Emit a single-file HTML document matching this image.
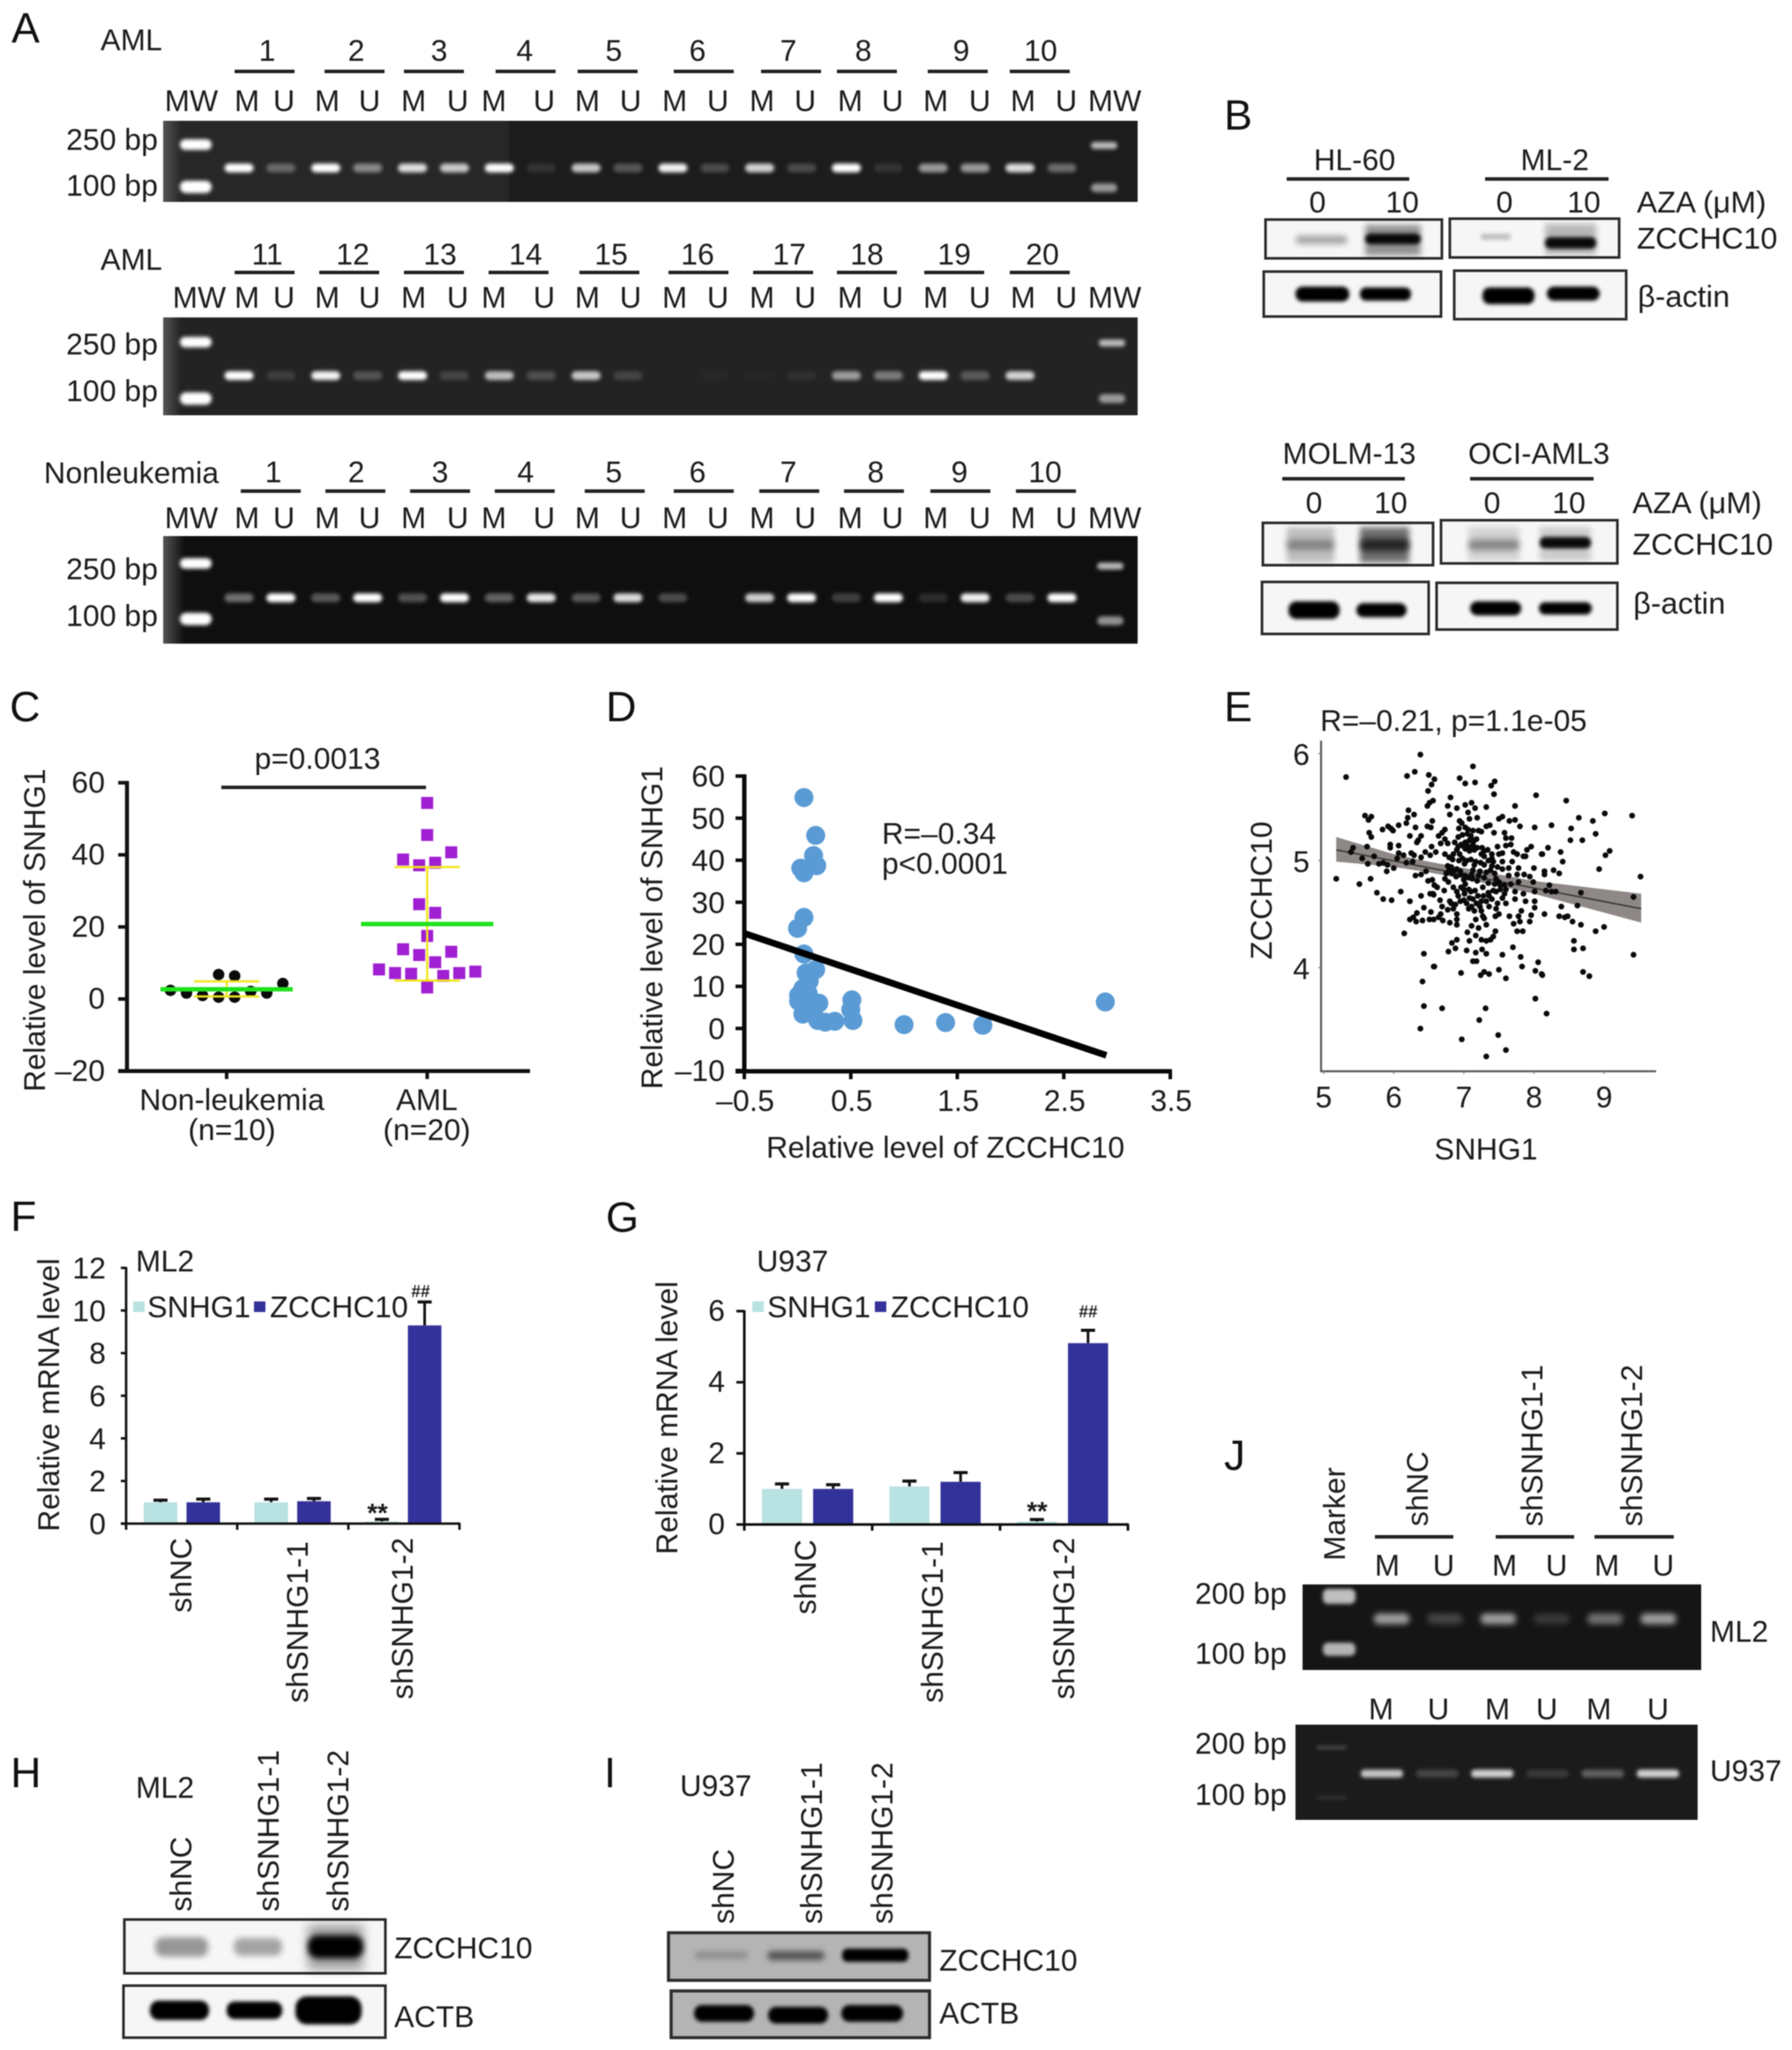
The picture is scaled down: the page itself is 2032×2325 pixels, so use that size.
<!DOCTYPE html>
<html lang="en">
<head>
<meta charset="utf-8">
<title>ZCCHC10 and SNHG1 figure</title>
<style>
html,body{margin:0;padding:0;background:#fff;}
svg{display:block;filter:blur(.5px);}
text{font-family:"Liberation Sans",sans-serif;font-size:34px;fill:#1c1c1c;}
.pl{font-size:48px;fill:#111;}
.wb{font-size:34.6px;}
.box{fill:#f6f6f6;stroke:#2c2c2c;stroke-width:3;}
.boxg{fill:#b4b4b4;stroke:#2c2c2c;stroke-width:3.5;}
</style>
</head>
<body>
<svg id="fig" width="2032" height="2325" viewBox="0 0 2032 2325">
<defs>
<filter id="bS" x="-30%" y="-100%" width="160%" height="300%"><feGaussianBlur stdDeviation="2.2"/></filter>
<filter id="bM" x="-30%" y="-100%" width="160%" height="300%"><feGaussianBlur stdDeviation="3.5"/></filter>
<filter id="bL" x="-30%" y="-60%" width="160%" height="220%"><feGaussianBlur stdDeviation="6"/></filter>
<linearGradient id="gelEdge" x1="0" x2="1" y1="0" y2="0"><stop offset="0" stop-color="#555"/><stop offset="1" stop-color="#555" stop-opacity="0"/></linearGradient>
</defs>
<rect x="0" y="0" width="2032" height="2325" fill="#fff"/>

<!-- panel letters -->
<text class="pl" x="13" y="48">A</text>
<text class="pl" x="1388" y="147">B</text>
<text class="pl" x="11" y="818">C</text>
<text class="pl" x="687" y="818">D</text>
<text class="pl" x="1388" y="818">E</text>
<text class="pl" x="12" y="1396">F</text>
<text class="pl" x="687" y="1397">G</text>
<text class="pl" x="12" y="2027">H</text>
<text class="pl" x="685" y="2027">I</text>
<text class="pl" x="1388" y="1667">J</text>

<!-- panel A static labels -->
<g>
<text x="149" y="57" text-anchor="middle">AML</text>
<text x="149" y="306" text-anchor="middle">AML</text>
<text x="149" y="548" text-anchor="middle">Nonleukemia</text>
<text x="179" y="170" text-anchor="end">250 bp</text>
<text x="179" y="222" text-anchor="end">100 bp</text>
<text x="179" y="402" text-anchor="end">250 bp</text>
<text x="179" y="455" text-anchor="end">100 bp</text>
<text x="179" y="657" text-anchor="end">250 bp</text>
<text x="179" y="710" text-anchor="end">100 bp</text>
<rect x="185" y="137" width="1105" height="92" fill="#1c1c1c"/>
<rect x="185" y="137" width="392" height="92" fill="#272727"/>
<rect x="185" y="137" width="20" height="92" fill="url(#gelEdge)"/>
<rect x="185" y="360" width="1105" height="111" fill="#232323"/>
<rect x="185" y="360" width="20" height="111" fill="url(#gelEdge)"/>
<rect x="185" y="608" width="1105" height="122" fill="#0f0f0f"/>
<rect x="185" y="608" width="24" height="122" fill="url(#gelEdge)"/>
<g id="gelA"></g>
</g>

<!-- panel B -->
<g>
<text x="1536" y="193" text-anchor="middle">HL-60</text>
<rect x="1459" y="201" width="139" height="4" fill="#222"/>
<text x="1763" y="193" text-anchor="middle">ML-2</text>
<rect x="1684" y="201" width="140" height="4" fill="#222"/>
<text x="1494" y="241" text-anchor="middle">0</text>
<text x="1590" y="241" text-anchor="middle">10</text>
<text x="1706" y="241" text-anchor="middle">0</text>
<text x="1796" y="241" text-anchor="middle">10</text>
<text class="wb" x="1856" y="241">AZA (μM)</text>
<text class="wb" x="1856" y="282">ZCCHC10</text>
<text class="wb" x="1857" y="348">β-actin</text>

<rect class="box" x="1435" y="249" width="200" height="44"/>
<rect x="1469" y="267" width="59" height="10" rx="5" opacity=".32" filter="url(#bM)"/>
<rect x="1548" y="255" width="63" height="35" opacity=".4" filter="url(#bM)"/>
<rect x="1548" y="265" width="63" height="12" rx="6" opacity=".95" filter="url(#bS)"/>
<rect class="box" x="1644" y="248" width="192" height="44"/>
<rect x="1679" y="265" width="34" height="7" rx="3" opacity=".22" filter="url(#bS)"/>
<rect x="1752" y="254" width="58" height="35" opacity=".25" filter="url(#bM)"/>
<rect x="1752" y="269" width="58" height="13" rx="6" opacity=".95" filter="url(#bS)"/>
<rect class="box" x="1433" y="308" width="201" height="51"/>
<rect x="1469" y="325" width="61" height="17" rx="8" filter="url(#bS)"/>
<rect x="1542" y="326" width="58" height="15" rx="7" filter="url(#bS)"/>
<rect class="box" x="1649" y="307" width="195" height="55"/>
<rect x="1681" y="326" width="59" height="19" rx="8" filter="url(#bS)"/>
<rect x="1754" y="325" width="60" height="16" rx="8" filter="url(#bS)"/>

<text x="1530" y="526" text-anchor="middle">MOLM-13</text>
<rect x="1454" y="541" width="139" height="4" fill="#222"/>
<text x="1745" y="526" text-anchor="middle">OCI-AML3</text>
<rect x="1667" y="541" width="140" height="4" fill="#222"/>
<text x="1490" y="582" text-anchor="middle">0</text>
<text x="1577" y="582" text-anchor="middle">10</text>
<text x="1692" y="582" text-anchor="middle">0</text>
<text x="1779" y="582" text-anchor="middle">10</text>
<text class="wb" x="1851" y="582">AZA (μM)</text>
<text class="wb" x="1851" y="629">ZCCHC10</text>
<text class="wb" x="1852" y="696">β-actin</text>

<rect class="box" x="1432" y="593" width="193" height="48"/>
<rect x="1459" y="598" width="54" height="40" opacity=".22" filter="url(#bM)"/>
<rect x="1459" y="612" width="54" height="12" rx="5" opacity=".3" filter="url(#bM)"/>
<rect x="1542" y="598" width="56" height="40" opacity=".55" filter="url(#bM)"/>
<rect x="1542" y="611" width="56" height="14" rx="6" opacity=".65" filter="url(#bM)"/>
<rect class="box" x="1634" y="590" width="200" height="49"/>
<rect x="1665" y="598" width="58" height="38" opacity=".14" filter="url(#bM)"/>
<rect x="1665" y="612" width="58" height="12" rx="5" opacity=".35" filter="url(#bM)"/>
<rect x="1746" y="598" width="58" height="38" opacity=".17" filter="url(#bM)"/>
<rect x="1746" y="609" width="58" height="13" rx="6" opacity=".95" filter="url(#bS)"/>
<rect class="box" x="1431" y="660" width="189" height="59"/>
<rect x="1461" y="682" width="58" height="20" rx="9" filter="url(#bS)"/>
<rect x="1538" y="684" width="57" height="16" rx="8" filter="url(#bS)"/>
<rect class="box" x="1629" y="661" width="205" height="53"/>
<rect x="1667" y="682" width="58" height="16" rx="8" filter="url(#bS)"/>
<rect x="1745" y="683" width="60" height="14" rx="7" filter="url(#bS)"/>
</g>

<!-- panel C -->
<g>
<text x="51" y="1055" text-anchor="middle" transform="rotate(-90 51 1055)">Relative level of SNHG1</text>
<text x="360" y="872" text-anchor="middle">p=0.0013</text>
<rect x="251" y="891" width="232" height="4" fill="#222"/>
<text x="263" y="1259" text-anchor="middle">Non-leukemia</text>
<text x="263" y="1293" text-anchor="middle">(n=10)</text>
<text x="484" y="1259" text-anchor="middle">AML</text>
<text x="484" y="1293" text-anchor="middle">(n=20)</text>
<g id="chartC"></g>
</g>

<!-- panel D -->
<g>
<text x="751" y="1052" text-anchor="middle" transform="rotate(-90 751 1052)">Relative level of SNHG1</text>
<text x="1072" y="1313" text-anchor="middle">Relative level of ZCCHC10</text>
<text x="1000" y="957">R=–0.34</text>
<text x="1000" y="991">p&lt;0.0001</text>
<g id="chartD"></g>
</g>

<!-- panel E -->
<g>
<text x="1497" y="829">R=–0.21, p=1.1e-05</text>
<text x="1442" y="1010" text-anchor="middle" transform="rotate(-90 1442 1010)">ZCCHC10</text>
<text x="1685" y="1315" text-anchor="middle">SNHG1</text>
<g id="chartE"></g>
</g>

<!-- panel F -->
<g>
<text x="67" y="1582" text-anchor="middle" transform="rotate(-90 67 1582)">Relative mRNA level</text>
<text x="154" y="1442">ML2</text>
<rect x="151" y="1476" width="13" height="12" fill="#b9e2e2"/>
<text x="167" y="1494">SNHG1</text>
<rect x="288" y="1476" width="13" height="12" fill="#33329a"/>
<text x="306" y="1494">ZCCHC10</text>
<text x="428" y="1726" text-anchor="middle" style="font-size:30px;font-weight:bold">**</text>
<text x="477" y="1471" text-anchor="middle" style="font-size:19px;font-weight:bold">##</text>
<text x="217" y="1744" text-anchor="end" transform="rotate(-90 217 1744)">shNC</text>
<text x="349" y="1748" text-anchor="end" transform="rotate(-90 349 1748)">shSNHG1-1</text>
<text x="468" y="1744" text-anchor="end" transform="rotate(-90 468 1744)">shSNHG1-2</text>
<g id="chartF"></g>
</g>

<!-- panel G -->
<g>
<text x="768" y="1608" text-anchor="middle" transform="rotate(-90 768 1608)">Relative mRNA level</text>
<text x="858" y="1442">U937</text>
<rect x="853" y="1476" width="13" height="12" fill="#b9e2e2"/>
<text x="870" y="1494">SNHG1</text>
<rect x="992" y="1476" width="13" height="12" fill="#33329a"/>
<text x="1010" y="1494">ZCCHC10</text>
<text x="1176" y="1724" text-anchor="middle" style="font-size:30px;font-weight:bold">**</text>
<text x="1234" y="1494" text-anchor="middle" style="font-size:19px;font-weight:bold">##</text>
<text x="925" y="1746" text-anchor="end" transform="rotate(-90 925 1746)">shNC</text>
<text x="1069" y="1748" text-anchor="end" transform="rotate(-90 1069 1748)">shSNHG1-1</text>
<text x="1218" y="1744" text-anchor="end" transform="rotate(-90 1218 1744)">shSNHG1-2</text>
<g id="chartG"></g>
</g>

<!-- panel H -->
<g>
<text x="154" y="2039">ML2</text>
<text x="217" y="2168" transform="rotate(-90 217 2168)">shNC</text>
<text x="316" y="2168" transform="rotate(-90 316 2168)">shSNHG1-1</text>
<text x="395" y="2168" transform="rotate(-90 395 2168)">shSNHG1-2</text>
<rect class="box" x="141" y="2177" width="296" height="61"/>
<rect x="176" y="2197" width="60" height="22" rx="9" opacity=".38" filter="url(#bM)"/>
<rect x="265" y="2198" width="55" height="20" rx="9" opacity=".33" filter="url(#bM)"/>
<rect x="349" y="2183" width="63" height="51" opacity=".35" filter="url(#bL)"/>
<rect x="349" y="2195" width="63" height="26" rx="11" filter="url(#bM)"/>
<text x="447" y="2221">ZCCHC10</text>
<rect class="box" x="140" y="2252" width="297" height="59"/>
<rect x="170" y="2269" width="67" height="22" rx="10" filter="url(#bS)"/>
<rect x="257" y="2270" width="63" height="20" rx="9" filter="url(#bS)"/>
<rect x="335" y="2264" width="75" height="32" rx="13" filter="url(#bS)"/>
<text x="447" y="2299">ACTB</text>
</g>

<!-- panel I -->
<g>
<text x="771" y="2037">U937</text>
<text x="832" y="2182" transform="rotate(-90 832 2182)">shNC</text>
<text x="932" y="2182" transform="rotate(-90 932 2182)">shSNHG1-1</text>
<text x="1012" y="2182" transform="rotate(-90 1012 2182)">shSNHG1-2</text>
<rect class="boxg" x="758" y="2192" width="296" height="54"/>
<rect x="788" y="2214" width="60" height="7" rx="3" opacity=".25" filter="url(#bM)"/>
<rect x="870" y="2213" width="65" height="10" rx="5" opacity=".55" filter="url(#bM)"/>
<rect x="955" y="2210" width="75" height="15" rx="6" filter="url(#bS)"/>
<text x="1065" y="2235">ZCCHC10</text>
<rect class="boxg" x="761" y="2258" width="293" height="53"/>
<rect x="787" y="2274" width="68" height="19" rx="9" filter="url(#bS)"/>
<rect x="871" y="2276" width="68" height="19" rx="9" filter="url(#bS)"/>
<rect x="954" y="2274" width="70" height="19" rx="9" filter="url(#bS)"/>
<text x="1065" y="2295">ACTB</text>
</g>

<!-- panel J -->
<g>
<text x="1525" y="1770" transform="rotate(-90 1525 1770)">Marker</text>
<text x="1619" y="1731" transform="rotate(-90 1619 1731)">shNC</text>
<text x="1749" y="1731" transform="rotate(-90 1749 1731)">shSNHG1-1</text>
<text x="1862" y="1731" transform="rotate(-90 1862 1731)">shSNHG1-2</text>
<rect x="1559" y="1741" width="89" height="4" fill="#222"/>
<rect x="1696" y="1741" width="89" height="4" fill="#222"/>
<rect x="1808" y="1741" width="90" height="4" fill="#222"/>
<text x="1459" y="1819" text-anchor="end">200 bp</text>
<text x="1459" y="1887" text-anchor="end">100 bp</text>
<text x="1939" y="1862">ML2</text>
<text x="1459" y="1989" text-anchor="end">200 bp</text>
<text x="1459" y="2047" text-anchor="end">100 bp</text>
<text x="1939" y="2020">U937</text>
<rect x="1477" y="1797" width="452" height="97" fill="#151515"/>
<rect x="1469" y="1956" width="456" height="108" fill="#1b1b1b"/>
<g id="gelJ"></g>
</g>
</svg>

<script>
/* ---------- chart data ---------- */
const cYTicks = [60, 40, 20, 0, -20];
const cYTickLabels = ['60', '40', '20', '0', '–20'];
const cNonLeukValues = [2.4, 1.65, 0.96, 0.5, 0.5, 2.1, 1.65, 4.3, 6.8, 6.4];
const cNonLeukSwarm = [-3.5, -2.5, -1.5, -0.5, 0.5, 1.5, 2.5, 3.5, -0.5, 0.5];
const cAmlValues = [54.4, 45.5, 40.7, 38.7, 37.8, 37.1, 26.3, 23.9, 17.5, 13.8, 13.1, 12.2, 10.2, 8.2, 7.2, 7.0, 6.4, 7.2, 7.6, 3.2];
const cAmlSwarm = [0, 0, 1.5, -1.5, 0.5, -0.5, -0.5, 0.5, 0, -1.5, 1.5, -0.5, 0.5, -3, -2, -1, 1, 2, 3, 0];
const cMeans = [2.7, 20.8];
const cSdLow = [0.7, 5.1];
const cSdHigh = [4.9, 36.6];

const dYTicks = [60, 50, 40, 30, 20, 10, 0, -10];
const dYTickLabels = ['60', '50', '40', '30', '20', '10', '0', '–10'];
const dXTicks = [-0.5, 0.5, 1.5, 2.5, 3.5];
const dXTickLabels = ['–0.5', '0.5', '1.5', '2.5', '3.5'];
const dZcchc10 = [0.06, 0.17, 0.15, 0.18, 0.03, 0.06, 0.06, 0.00, 0.06, 0.17, 0.08, 0.11, 0.01, 0.10, 0.20, 0.05, 0.51, 0.50, 0.52, 0.19, 0.26, 0.35, 1.00, 1.39, 1.74, 2.89, 0.08, 0.14, 0.01, 0.05];
const dSnhg1 = [54.9, 45.9, 41.1, 38.7, 38.1, 37.0, 26.4, 23.8, 17.7, 14.0, 13.2, 11.3, 7.9, 8.3, 6.0, 3.4, 6.8, 4.5, 1.9, 1.9, 1.5, 1.7, 0.9, 1.4, 0.75, 6.3, 5.5, 4.8, 6.5, 9.5];
const dTrendX = [-0.5, 2.9];
const dTrendY = [22.6, -6.4];

const eXTicks = [5, 6, 7, 8, 9];
const eYTicks = [6, 5, 4];
const eSnhg1 = [
6.38,5.32,6.19,6.30,6.50,6.58,6.54,6.49,6.48,6.51,6.56,6.21,6.29,6.20,6.18,5.59,5.68,5.64,5.84,5.92,5.96,5.99,6.07,6.31,5.65,5.68,6.23,6.39,6.35,6.33,5.95,5.95,6.07,5.62,5.42,5.39,5.55,5.72,6.07,6.14,6.25,6.29,6.39,6.45,6.52,6.54,6.60,6.48,6.53,6.55,6.05,6.18,6.27,5.63,5.79,5.85,5.91,5.90,6.00,5.18,5.51,5.67,5.76,6.10,5.85,5.97,6.23,6.39,6.31,6.39,6.46,6.49,6.55,6.58,6.52,6.57,6.43,6.33,6.53,6.23,6.28,6.32,6.41,6.51,6.57,6.15,6.43,6.57,6.41,6.43,6.38,
7.13,6.94,7.02,7.16,7.44,7.39,7.43,8.03,6.81,
6.77,6.90,7.02,7.11,7.16,7.32,7.73,6.80,7.06,7.08,7.19,6.94,6.97,
7.50,7.55,7.65,7.73,7.80,8.01,7.32,7.37,6.93,7.02,7.06,7.13,7.21,7.25,
6.73,6.69,6.64,7.43,7.58,7.60,7.68,6.92,6.73,6.67,6.77,
7.02,7.08,7.15,6.96,7.04,7.13,6.90,7.02,7.08,7.15,
7.48,7.60,7.67,7.96,7.90,7.29,7.25,7.40,7.50,7.55,7.71,7.76,7.85,7.88,8.11,
6.73,6.79,6.85,6.94,7.29,7.40,7.55,7.69,7.01,7.24,7.29,7.15,7.40,7.48,
6.77,6.82,6.79,6.85,6.90,7.13,7.23,7.32,7.38,7.44,7.55,7.64,7.78,8.00,
6.96,7.02,7.11,7.21,7.29,7.46,7.64,7.76,7.86,7.94,6.73,6.78,7.00,7.02,
7.50,7.58,7.67,7.78,7.99,6.58,6.62,6.85,6.90,6.92,7.01,7.16,7.27,7.46,
7.73,7.85,8.01,6.56,7.58,7.36,7.40,7.32,7.55,7.73,6.66,7.08,7.13,7.00,
7.04,7.23,7.11,6.80,6.88,7.88,8.01,7.60,7.48,7.46,7.50,8.01,
6.69,6.77,6.85,6.67,6.64,6.90,6.90,6.90,7.15,7.25,7.27,7.29,7.17,
7.65,7.78,7.82,7.96,7.94,7.71,7.80,7.11,7.32,7.21,7.05,7.76,7.84,7.45,
7.17,7.42,7.25,7.32,7.38,7.08,6.90,6.83,6.78,6.88,7.04,7.17,7.26,7.32,
7.70,7.55,7.81,7.13,7.18,8.06,7.83,6.58,6.96,7.24,7.29,7.36,7.50,7.60,8.02,8.11,
8.02,6.69,7.31,7.22,6.97,7.49,7.60,7.32,
8.46,9.01,9.40,8.64,8.84,8.25,8.53,8.88,8.52,8.69,
8.20,8.38,8.12,9.08,9.02,8.41,8.15,8.28,8.36,8.15,8.93,9.52,
8.22,8.17,8.25,8.31,8.67,9.42,8.39,8.62,8.15,8.36,8.44,8.48,8.55,8.67,
8.88,9.00,8.57,8.57,8.70,9.42,8.12,8.70,8.79,8.18,
6.98,7.05,7.10,7.18,6.87,6.92,7.00,7.06,7.12,7.19,7.26,7.34,6.84,6.93,6.98,7.04,7.10,7.17,7.35,7.42,6.75,6.83,6.89,6.95,7.07,7.12,7.19,7.35,7.44,7.52,6.72,6.96,7.00,7.07,7.10,7.20,7.28,7.35,7.42,7.52,7.60,6.82,6.95,7.07,7.18,7.25,7.36,7.45,6.70,6.80
];
const eZcchc10 = [
5.99,5.78,5.79,5.83,5.80,5.76,5.71,5.65,5.51,5.54,5.56,5.47,5.43,5.40,5.35,5.42,5.41,5.38,5.29,5.32,5.30,5.28,5.33,5.31,5.26,5.22,5.23,5.23,5.19,5.17,5.15,5.12,5.14,5.13,5.12,5.08,5.02,5.04,5.07,5.05,5.07,5.05,5.03,5.08,5.05,5.13,5.08,5.32,5.31,5.37,5.02,4.98,4.99,4.97,4.97,4.98,4.96,4.90,4.93,4.83,4.78,4.83,4.70,4.71,4.64,4.63,4.62,4.67,4.86,4.87,4.90,4.81,4.82,4.77,4.69,4.68,4.56,4.51,4.52,4.45,4.47,4.43,4.44,4.45,4.45,4.32,4.13,4.01,3.87,3.64,3.43,
5.88,5.77,5.72,5.73,5.74,5.70,5.62,5.61,5.59,
5.51,5.49,5.52,5.54,5.49,5.50,5.51,5.43,5.45,5.39,5.40,5.37,5.35,
5.39,5.41,5.37,5.38,5.32,5.31,5.32,5.33,5.30,5.31,5.29,5.28,5.28,5.27,
5.29,5.26,5.23,5.26,5.26,5.21,5.21,5.22,5.20,5.16,5.16,
5.17,5.19,5.19,5.15,5.15,5.15,5.10,5.11,5.09,5.10,
5.13,5.14,5.15,5.13,5.10,5.09,5.06,5.06,5.06,5.07,5.08,5.06,5.04,5.04,5.06,
5.06,5.03,5.06,5.06,5.04,5.02,4.99,4.99,4.97,4.98,4.96,4.96,4.95,4.94,
4.95,4.94,4.91,4.90,4.92,4.91,4.90,4.89,4.91,4.88,4.92,4.93,4.93,4.93,
4.87,4.86,4.87,4.86,4.84,4.83,4.86,4.87,4.87,4.85,4.83,4.80,4.82,4.78,
4.80,4.77,4.78,4.80,4.80,4.77,4.75,4.75,4.71,4.67,4.69,4.72,4.75,4.71,
4.71,4.69,4.71,4.69,4.69,4.67,4.64,4.62,4.65,4.64,4.63,4.65,4.64,4.63,
4.60,4.57,4.57,4.62,4.59,4.62,4.62,4.60,4.60,4.55,4.50,4.56,
4.57,4.54,4.55,4.50,4.47,4.50,4.45,4.40,4.53,4.53,4.48,4.46,4.45,
4.48,4.48,4.53,4.49,4.43,4.41,4.43,4.39,4.40,4.37,4.33,4.34,4.34,4.34,
4.30,4.29,4.26,4.25,4.26,4.25,4.26,4.23,4.15,4.18,4.16,4.14,4.17,4.13,
4.19,4.12,4.10,4.06,4.06,4.05,4.01,4.01,3.95,3.93,3.96,3.94,3.98,3.90,3.97,3.94,
3.71,3.62,3.62,3.51,3.33,3.37,3.23,3.17,
5.56,5.44,5.42,5.40,5.37,5.33,5.30,5.25,5.19,5.19,
5.12,5.08,5.06,5.09,5.05,4.99,4.90,4.91,4.88,4.87,4.92,4.85,
4.77,4.72,4.71,4.71,4.70,4.66,4.57,4.58,4.50,4.48,4.47,4.48,4.43,4.40,
4.34,4.38,4.25,4.17,4.18,4.12,3.93,3.96,3.92,3.57,
5.24,5.25,5.23,5.20,5.17,5.13,5.13,5.13,5.12,5.12,5.12,5.10,5.01,5.00,5.02,5.00,5.01,4.99,5.00,4.99,4.88,4.88,4.85,4.90,4.84,4.83,4.81,4.79,4.78,4.77,4.72,4.75,4.73,4.73,4.71,4.67,4.67,4.70,4.72,4.73,4.73,4.60,4.62,4.55,4.60,4.62,4.57,4.48,4.44,4.42
];
const eBandX = [5.18, 6, 6.5, 7, 8, 9.53];
const eBandUpper = [5.22, 5.06, 4.99, 4.93, 4.81, 4.69];
const eBandLower = [4.99, 4.94, 4.89, 4.83, 4.69, 4.42];
const eTrendX = [5.18, 9.53];
const eTrendY = [5.10, 4.55];

const fYTicks = [12, 10, 8, 6, 4, 2, 0];
const fSnhg1 = [1.0, 1.0, 0.1];
const fZcchc10 = [1.0, 1.05, 9.3];
const fSnhg1ErrTop = [1.1, 1.15, 0.2];
const fZcchc10ErrTop = [1.15, 1.18, 10.4];

const gYTicks = [6, 4, 2, 0];
const gSnhg1 = [1.0, 1.07, 0.08];
const gZcchc10 = [1.0, 1.2, 5.1];
const gSnhg1ErrTop = [1.14, 1.22, 0.14];
const gZcchc10ErrTop = [1.12, 1.46, 5.46];

/* ---------- gel band brightness (0-1) ---------- */
const gel1Methylated = [1.0, 1.0, 0.85, 1.0, 0.75, 0.95, 0.8, 1.0, 0.55, 0.85];
const gel1Unmethylated = [0.3, 0.45, 0.75, 0.1, 0.25, 0.2, 0.2, 0.1, 0.55, 0.35];
const gel2Methylated = [1.0, 0.95, 1.0, 0.7, 0.75, 0.0, 0.01, 0.55, 1.0, 0.8];
const gel2Unmethylated = [0.12, 0.22, 0.15, 0.2, 0.15, 0.02, 0.06, 0.4, 0.25, 0.0];
const gel3Methylated = [0.4, 0.3, 0.28, 0.35, 0.3, 0.25, 0.8, 0.2, 0.12, 0.25];
const gel3Unmethylated = [1.0, 1.0, 1.0, 0.9, 0.85, 0.0, 1.0, 1.0, 0.95, 1.0];
const jMl2Bands = [0.6, 0.2, 0.6, 0.15, 0.4, 0.6];
const jU937Bands = [0.75, 0.18, 0.8, 0.13, 0.3, 0.8];
const gel1Numbers = ['1', '2', '3', '4', '5', '6', '7', '8', '9', '10'];
const gel2Numbers = ['11', '12', '13', '14', '15', '16', '17', '18', '19', '20'];
const gel3Numbers = ['1', '2', '3', '4', '5', '6', '7', '8', '9', '10'];
const laneLetters = ['M', 'U'];
const gelWeightMarker = 'MW';

/* ---------- gel layout ---------- */
const layoutNumberX1 = [303, 404, 498, 595, 696, 791, 894, 979, 1090, 1180];
const layoutLineX1 = [266, 368, 458, 562, 655, 764, 863, 949, 1052, 1145];
const layoutNumberX2 = [303, 400, 499, 596, 693, 791, 895, 983, 1082, 1182];
const layoutLineX2 = [266, 362, 458, 554, 657, 758, 854, 949, 1048, 1145];
const layoutNumberX3 = [310, 404, 499, 596, 696, 791, 894, 993, 1088, 1185];
const layoutLineX3 = [273, 369, 465, 561, 663, 764, 861, 957, 1055, 1152];
const layoutLabelMX = [280, 371, 469, 560, 666, 765, 864, 964, 1061, 1160];
const layoutLabelUX = [322, 419, 519, 617, 715, 814, 913, 1012, 1111, 1209];
const jMl2Letters = ['M', 'U', 'M', 'U', 'M', 'U'];
const jU937Letters = ['M', 'U', 'M', 'U', 'M', 'U'];
const jMl2LabelX = [1573, 1637, 1706, 1765, 1822, 1886];
const jU937LabelX = [1566, 1631, 1698, 1754, 1813, 1880];

/* ---------- helpers ---------- */
const svgRoot = document.getElementById('fig');
const NS = svgRoot.namespaceURI;
function mk(tag, attrs, parent) {
  const el = document.createElementNS(NS, tag);
  for (const k in attrs) el.setAttribute(k, attrs[k]);
  parent.appendChild(el);
  return el;
}
function txt(parent, x, y, str, anchor) {
  const el = mk('text', { x: x, y: y, 'text-anchor': anchor || 'middle' }, parent);
  el.textContent = str;
  return el;
}

/* ---------- panel A gels ---------- */
const gelA = document.getElementById('gelA');
function laneMX(i) { return 271 + 98.4 * i; }
function laneUX(i) { return 318.5 + 98.4 * i; }
function gelBand(parent, cx, cy, w, h, level) {
  const el = mk('rect', { x: cx - w / 2, y: cy - h / 2, width: w, height: h, rx: h / 2, fill: '#fff', opacity: level, filter: 'url(#bS)' }, parent);
  return el;
}
function drawGel(name, numbers, numberX, lineX, numY, lineY, letterY, bandY, mVals, uVals, mwX, ladTopY, ladBotY, rightX, rTopY, rBotY) {
  for (let i = 0; i < numbers.length; i++) {
    const n = txt(gelA, numberX[i], numY, numbers[i]);
    
    
    const l = mk('rect', { x: lineX[i], y: lineY - 2, width: 68, height: 4, fill: '#222' }, gelA);
    
    
    const m = txt(gelA, layoutLabelMX[i], letterY, laneLetters[0]);
    
    
    const u = txt(gelA, layoutLabelUX[i], letterY, laneLetters[1]);
    
    
    const bm = gelBand(gelA, laneMX(i), bandY, 33, 10, mVals[i]);
    
    
    const bu = gelBand(gelA, laneUX(i), bandY, 33, 10, uVals[i]);
    
    
  }
  const mwL = txt(gelA, mwX, letterY, gelWeightMarker);
  
  
  const mwR = txt(gelA, 1264, letterY, gelWeightMarker);
  
  
  const la = gelBand(gelA, 222, ladTopY, 36, 12, 1);
  
  
  const lb = gelBand(gelA, 222, ladBotY, 36, 14, 1);
  
  
  const ra = gelBand(gelA, rightX, rTopY, 30, 8, 0.7);
  
  
  const rb = gelBand(gelA, rightX, rBotY, 30, 10, 0.55);
  
  
}
drawGel('gel-1', gel1Numbers, layoutNumberX1, layoutLineX1, 69, 81, 126, 190.5, gel1Methylated, gel1Unmethylated, 217, 164, 212, 1252, 165, 213);
drawGel('gel-2', gel2Numbers, layoutNumberX2, layoutLineX2, 300, 309, 349, 426, gel2Methylated, gel2Unmethylated, 226, 388, 452, 1261, 389, 452);
drawGel('gel-3', gel3Numbers, layoutNumberX3, layoutLineX3, 547, 557, 599, 678, gel3Methylated, gel3Unmethylated, 217, 639, 702, 1259, 642, 704);

/* ---------- panel J gels ---------- */
const gelJ = document.getElementById('gelJ');
for (let i = 0; i < jMl2Bands.length; i++) {
  const b = mk('rect', { x: 1578 + 60.5 * i - 20, y: 1830, width: 40, height: 12, rx: 5, fill: '#fff', opacity: jMl2Bands[i], filter: 'url(#bM)' }, gelJ);
  
  
  const l = txt(gelJ, jMl2LabelX[i], 1787, jMl2Letters[i]);
  
  
}
for (let i = 0; i < jU937Bands.length; i++) {
  const b = mk('rect', { x: 1567 + 62.6 * i - 24, y: 2007, width: 48, height: 9, rx: 4, fill: '#fff', opacity: jU937Bands[i], filter: 'url(#bS)' }, gelJ);
  
  
  const l = txt(gelJ, jU937LabelX[i], 1950, jU937Letters[i]);
  
  
}
const jM1 = mk('rect', { x: 1500, y: 1802, width: 37, height: 17, rx: 6, fill: '#ddd', opacity: 0.85, filter: 'url(#bS)' }, gelJ);


const jM2 = mk('rect', { x: 1500, y: 1863, width: 37, height: 15, rx: 6, fill: '#ddd', opacity: 0.8, filter: 'url(#bS)' }, gelJ);


const jM3 = mk('rect', { x: 1493, y: 1980, width: 34, height: 4, fill: '#fff', opacity: 0.2, filter: 'url(#bS)' }, gelJ);


const jM4 = mk('rect', { x: 1493, y: 2037, width: 34, height: 4, fill: '#fff', opacity: 0.1, filter: 'url(#bS)' }, gelJ);



/* ---------- panel C ---------- */
const chartC = document.getElementById('chartC');
function cY(v) { return 1133 - v * 4.0875; }
function cX(i) { return 257 + 227.4 * i; }
function cSwarm(i, s) { return cX(i) + s * 18.2; }
const cAxisY = mk('line', { x1: 144, x2: 144, y1: cY(60) - 2, y2: cY(-20), stroke: '#111', 'stroke-width': 4.5 }, chartC);


const cAxisX = mk('line', { x1: 134, x2: 601, y1: cY(-20), y2: cY(-20), stroke: '#111', 'stroke-width': 4.5 }, chartC);


cYTicks.forEach(function (v, i) {
  const t = mk('line', { x1: 134, x2: 144, y1: cY(v), y2: cY(v), stroke: '#111', 'stroke-width': 4 }, chartC);
  
  
  const l = txt(chartC, 119, cY(v) + 11, cYTickLabels[i], 'end');
  
  
});
[0, 1].forEach(function (i) {
  const t = mk('line', { x1: cX(i), x2: cX(i), y1: cY(-20), y2: cY(-20) + 9, stroke: '#111', 'stroke-width': 4 }, chartC);
  
  
});
cNonLeukValues.forEach(function (v, i) {
  const d = mk('circle', { cx: cSwarm(0, cNonLeukSwarm[i]), cy: cY(v), r: 6.5, fill: '#0a0a0a' }, chartC);
  
  
});
cAmlValues.forEach(function (v, i) {
  const d = mk('rect', { x: cSwarm(1, cAmlSwarm[i]) - 6.8, y: cY(v) - 6.8, width: 13.6, height: 13.6, fill: '#a01fd2' }, chartC);
  
  
});
[0, 1].forEach(function (i) {
  const v = mk('line', { x1: cX(i), x2: cX(i), y1: cY(cSdHigh[i]), y2: cY(cSdLow[i]), stroke: '#f2e61c', 'stroke-width': 2.5 }, chartC);
  
  
  const hi = mk('line', { x1: cX(i) - 37, x2: cX(i) + 37, y1: cY(cSdHigh[i]), y2: cY(cSdHigh[i]), stroke: '#f2e61c', 'stroke-width': 2.5 }, chartC);
  
  
  const lo = mk('line', { x1: cX(i) - 37, x2: cX(i) + 37, y1: cY(cSdLow[i]), y2: cY(cSdLow[i]), stroke: '#f2e61c', 'stroke-width': 2.5 }, chartC);
  
  
  const m = mk('line', { x1: cX(i) - 75, x2: cX(i) + 75, y1: cY(cMeans[i]), y2: cY(cMeans[i]), stroke: '#1fe21f', 'stroke-width': 5 }, chartC);
  
  
});

/* ---------- panel D ---------- */
const chartD = document.getElementById('chartD');
function dX(v) { return 844 + (v + 0.5) * 120.75; }
function dY(v) { return 1166.4 - v * 4.77; }
dZcchc10.forEach(function (v, i) {
  const d = mk('circle', { cx: dX(v), cy: dY(dSnhg1[i]), r: 10.8, fill: '#5b9bd5' }, chartD);
  
  
});
const dAxisY = mk('line', { x1: 844, x2: 844, y1: dY(60) - 2, y2: 1216, stroke: '#0a0a0a', 'stroke-width': 5 }, chartD);


const dAxisX = mk('line', { x1: 834, x2: dX(3.5) + 2, y1: 1215, y2: 1215, stroke: '#0a0a0a', 'stroke-width': 5 }, chartD);


dYTicks.forEach(function (v, i) {
  const t = mk('line', { x1: 834, x2: 844, y1: dY(v), y2: dY(v), stroke: '#0a0a0a', 'stroke-width': 4 }, chartD);
  
  
  const l = txt(chartD, 822, dY(v) + 12, dYTickLabels[i], 'end');
  
  
});
dXTicks.forEach(function (v, i) {
  const t = mk('line', { x1: dX(v), x2: dX(v), y1: 1215, y2: 1224, stroke: '#0a0a0a', 'stroke-width': 4 }, chartD);
  
  
  const l = txt(chartD, dX(v) + 1, 1260, dXTickLabels[i]);
  
  
});
const dTrend = mk('line', { x1: dX(dTrendX[0]), y1: dY(dTrendY[0]), x2: dX(dTrendX[1]), y2: dY(dTrendY[1]), stroke: '#000', 'stroke-width': 7.5 }, chartD);



/* ---------- panel E ---------- */
const chartE = document.getElementById('chartE');
function eX(v) { return 1580.4 + (v - 6) * 79.5; }
function eY(v) { return 976 - (v - 5) * 121.4; }
const ePts = [];
eBandX.forEach(function (v, i) { ePts.push(eX(v) + ',' + eY(eBandUpper[i])); });
for (let i = eBandX.length - 1; i >= 0; i--) { ePts.push(eX(eBandX[i]) + ',' + eY(eBandLower[i])); }
const eBand = mk('polygon', { points: ePts.join(' '), fill: '#8e8886' }, chartE);


const eTrend = mk('line', { x1: eX(eTrendX[0]), y1: eY(eTrendY[0]), x2: eX(eTrendX[1]), y2: eY(eTrendY[1]), stroke: '#333', 'stroke-width': 1.5 }, chartE);


eSnhg1.forEach(function (v, i) {
  const d = mk('circle', { cx: eX(v), cy: eY(eZcchc10[i]), r: 3.3, fill: '#0a0a0a' }, chartE);
  
  
});
const eAxisY = mk('line', { x1: 1498, x2: 1498, y1: 840, y2: 1216, stroke: '#555', 'stroke-width': 2.2 }, chartE);


const eAxisX = mk('line', { x1: 1497, x2: 1878, y1: 1215, y2: 1215, stroke: '#555', 'stroke-width': 2.2 }, chartE);


eYTicks.forEach(function (v) {
  const t = mk('line', { x1: 1495, x2: 1498, y1: eY(v), y2: eY(v), stroke: '#888', 'stroke-width': 1.5 }, chartE);
  
  
  const l = txt(chartE, 1485, eY(v) + 13, String(v), 'end');
  
  
});
eXTicks.forEach(function (v) {
  const t = mk('line', { x1: eX(v), x2: eX(v), y1: 1215, y2: 1218, stroke: '#888', 'stroke-width': 1.5 }, chartE);
  
  
  const l = txt(chartE, eX(v), 1256, String(v));
  
  
});

/* ---------- panels F and G ---------- */
function drawBars(prefix, parent, yScale, ticks, s1, s2, e1, e2, left, groupStep, barW, seriesStep, axisX, axisL, axisR, tickStep, labelRight, labelDy, lineW) {
  const zero = yScale(0);
  for (let g = 0; g < s1.length; g++) {
    const x1 = left + groupStep * g;
    const x2 = x1 + seriesStep;
    const stem1 = mk('line', { x1: x1 + barW / 2, x2: x1 + barW / 2, y1: yScale(s1[g]), y2: yScale(e1[g]), stroke: '#111', 'stroke-width': 3 }, parent);
    
    
    const cap1 = mk('line', { x1: x1 + barW / 2 - 8, x2: x1 + barW / 2 + 8, y1: yScale(e1[g]), y2: yScale(e1[g]), stroke: '#111', 'stroke-width': 3.5 }, parent);
    
    
    const stem2 = mk('line', { x1: x2 + barW / 2, x2: x2 + barW / 2, y1: yScale(s2[g]), y2: yScale(e2[g]), stroke: '#111', 'stroke-width': 3 }, parent);
    
    
    const cap2 = mk('line', { x1: x2 + barW / 2 - 8, x2: x2 + barW / 2 + 8, y1: yScale(e2[g]), y2: yScale(e2[g]), stroke: '#111', 'stroke-width': 3.5 }, parent);
    
    
    const b1 = mk('rect', { x: x1, y: yScale(s1[g]), width: barW, height: zero - yScale(s1[g]), fill: '#b9e2e2' }, parent);
    
    
    const b2 = mk('rect', { x: x2, y: yScale(s2[g]), width: barW, height: zero - yScale(s2[g]), fill: '#33329a' }, parent);
    
    
  }
  const ay = mk('line', { x1: axisX, x2: axisX, y1: yScale(ticks[0]) - 1, y2: zero + 7, stroke: '#111', 'stroke-width': lineW }, parent);
  
  
  const ax = mk('line', { x1: axisL, x2: axisR + 1, y1: zero, y2: zero, stroke: '#111', 'stroke-width': lineW }, parent);
  
  
  ticks.forEach(function (v) {
    const t = mk('line', { x1: axisL, x2: axisX, y1: yScale(v), y2: yScale(v), stroke: '#111', 'stroke-width': lineW }, parent);
    
    
    const l = txt(parent, labelRight, yScale(v) + labelDy, String(v), 'end');
    
    
  });
  for (let k = 1; k <= s1.length; k++) {
    const t = mk('line', { x1: axisX + tickStep * k, x2: axisX + tickStep * k, y1: zero, y2: zero + 7, stroke: '#111', 'stroke-width': lineW }, parent);
    
    
  }
}
function fY(v) { return 1728 - v * 24.17; }
function gY(v) { return 1729 - v * 40.33; }
drawBars('f', document.getElementById('chartF'), fY, fYTicks, fSnhg1, fZcchc10, fSnhg1ErrTop, fZcchc10ErrTop, 163, 125.5, 38, 48.5, 143, 137, 521, 126, 120, 12, 2.8);
drawBars('g', document.getElementById('chartG'), gY, gYTicks, gSnhg1, gZcchc10, gSnhg1ErrTop, gZcchc10ErrTop, 864, 144.5, 45.5, 58, 844, 835, 1279, 145, 822, 11, 3);
</script>
</body>
</html>
